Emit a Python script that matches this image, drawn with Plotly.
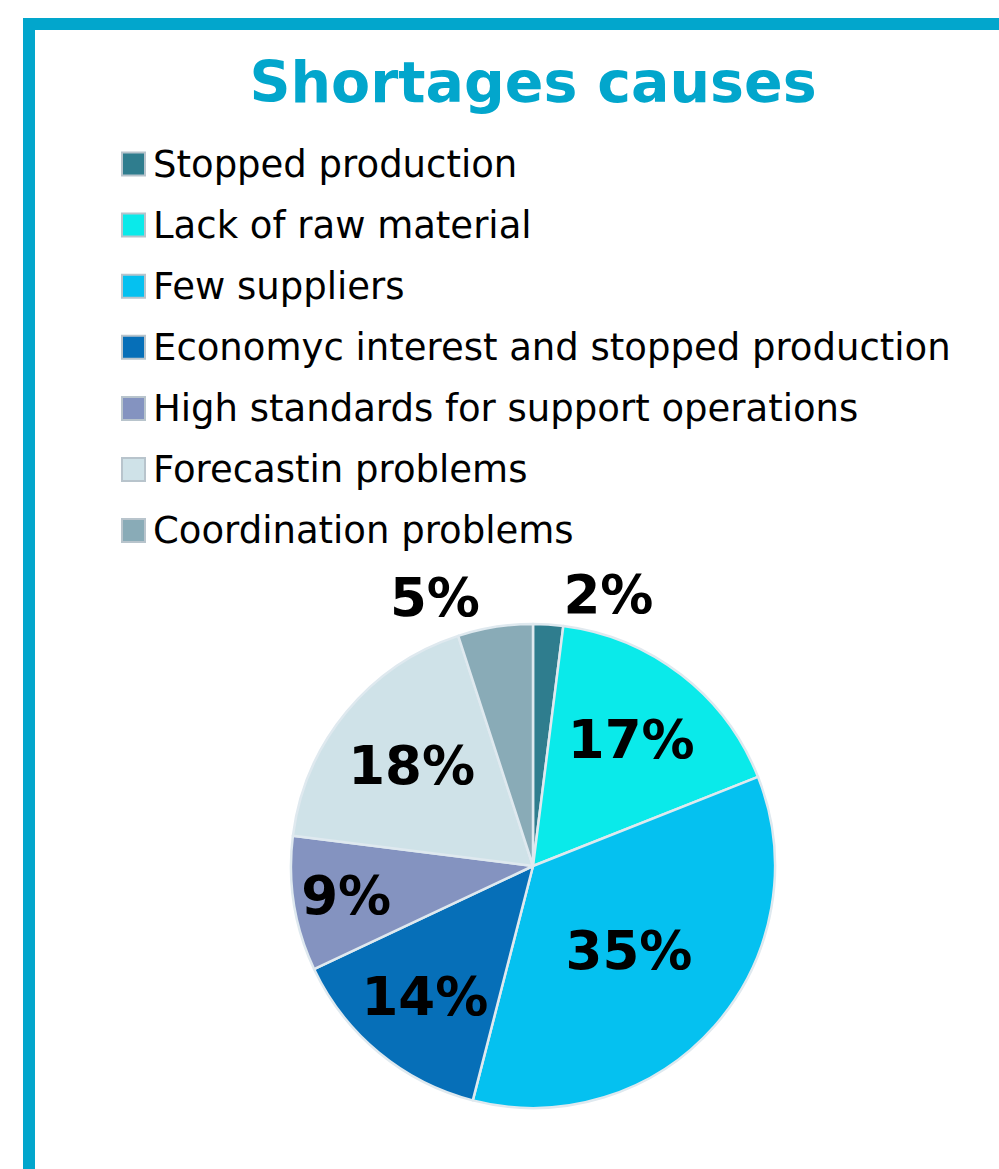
import plotly.graph_objects as go

categories = [
    "Stopped production",
    "Lack of raw material",
    "Few suppliers",
    "Economyc interest and stopped production",
    "High standards for support operations",
    "Forecastin problems",
    "Coordination problems",
]
values = [2, 17, 35, 14, 9, 18, 5]
colors = ["#2f7d8e", "#0aeaea", "#05c1f0", "#066fb8", "#8493c0", "#cfe2e8", "#89abb7"]
text_positions = ["outside", "inside", "inside", "inside", "inside", "inside", "outside"]

W, H = 999, 1169
BORDER = "#02a6cc"

fig = go.Figure()
fig.add_trace(go.Pie(
    labels=categories,
    values=values,
    sort=False,
    direction="clockwise",
    rotation=0,
    marker=dict(colors=colors, line=dict(color="#dfe9ef", width=2.5)),
    texttemplate="%{percent:.0%}",
    textposition=text_positions,
    insidetextorientation="horizontal",
    textfont=dict(family="DejaVu Sans", size=53, color="black", weight="bold"),
    domain=dict(x=[291 / W, 775 / W], y=[1 - 1108 / H, 1 - 624 / H]),
    showlegend=False,
    hoverinfo="label+percent",
))

# custom legend
annotations = []
shapes = []
row0, step = 164, 61.1
for i, (cat, col) in enumerate(zip(categories, colors)):
    yc = row0 + i * step
    shapes.append(dict(type="rect", xref="paper", yref="paper",
                       x0=122 / W, x1=145 / W,
                       y0=1 - (yc + 11.5) / H, y1=1 - (yc - 11.5) / H,
                       fillcolor=col, line=dict(color="#b8c4cc", width=2)))
    annotations.append(dict(text=cat, xref="paper", yref="paper",
                            x=151 / W, y=1 - yc / H, xanchor="left", yanchor="middle",
                            showarrow=False,
                            font=dict(family="DejaVu Sans", size=37, color="black")))

# frame
shapes.append(dict(type="rect", xref="paper", yref="paper",
                   x0=29 / W, y0=1 - 24 / H, x1=1.05, y1=-0.05,
                   line=dict(color=BORDER, width=12), fillcolor="rgba(0,0,0,0)"))

fig.update_layout(
    width=W, height=H,
    margin=dict(l=0, r=0, t=0, b=0),
    paper_bgcolor="white",
    plot_bgcolor="white",
    title=dict(text="<b>Shortages causes</b>", x=533 / W, xanchor="center",
               y=1 - 82 / H, yanchor="middle",
               font=dict(family="DejaVu Sans", size=57, color=BORDER)),
    uniformtext=dict(minsize=53, mode="show"),
    annotations=annotations,
    shapes=shapes,
)

fig.write_html("out.html")
